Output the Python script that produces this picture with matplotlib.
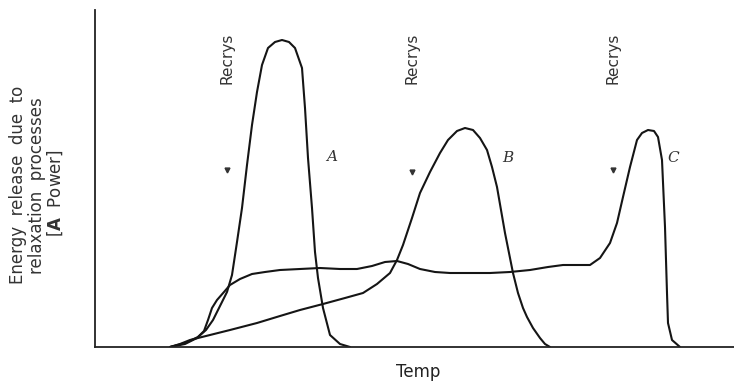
import matplotlib
matplotlib.use("Agg")
import matplotlib.pyplot as plt

# readings: temperature (arbitrary units) and energy release (arbitrary units)
temp_a = [75, 90, 103, 111, 118, 124, 129, 132, 137, 142, 147, 152, 157, 162,
          167, 173, 180, 187, 194, 200, 207, 210, 213, 217, 220, 223, 228, 235,
          245, 255]
power_a = [0, 4, 10, 17, 27, 39, 49, 55, 72, 105, 139, 182, 222, 255, 282, 299,
           305, 307, 305, 299, 279, 239, 189, 139, 95, 69, 39, 12, 3, 0]

temp_b = [75, 85, 95, 115, 135, 162, 185, 205, 228, 250, 268, 282, 295, 302,
          308, 317, 325, 335, 345, 353, 362, 370, 378, 385, 392, 397, 402, 406,
          410, 415, 418, 423, 428, 432, 438, 445, 450, 455]
power_b = [0, 3, 7, 12, 17, 24, 31, 37, 43, 49, 54, 63, 74, 87, 102, 129, 154,
           175, 194, 207, 216, 219, 217, 209, 197, 180, 160, 137, 114, 89, 74,
           54, 39, 30, 19, 9, 3, 0]

temp_c = [75, 90, 102, 109, 113, 117, 122, 129, 135, 145, 157, 170, 185, 205,
          225, 245, 262, 277, 290, 302, 313, 325, 340, 355, 375, 395, 415, 435,
          453, 468, 483, 495, 505, 515, 522, 528, 535, 542, 547, 553, 559, 563,
          567, 570, 572, 573, 577, 585]
power_c = [0, 3, 9, 16, 27, 39, 47, 55, 62, 68, 73, 75, 77, 78, 79, 78, 78, 81,
           85, 86, 83, 78, 75, 74, 74, 74, 75, 77, 80, 82, 82, 82, 89, 104, 124,
           150, 180, 207, 214, 217, 216, 210, 187, 120, 54, 24, 7, 0]

curve_labels = ["A", "B", "C"]
label_temp = [237, 413, 578]
label_power = [190, 189, 189]

recrys_temp = [132, 317, 518]
arrow_power = [177, 175, 177]

fig = plt.figure(figsize=(7.34, 3.89), dpi=100)
W, H = 734, 389
ax = fig.add_axes([95 / W, (H - 347) / H, (W - 95) / W, 337 / H])

ink = "#151515"
for t, p in [(temp_a, power_a), (temp_b, power_b), (temp_c, power_c)]:
    ax.plot(t, p, color=ink, lw=1.5, solid_capstyle="round", solid_joinstyle="round")

for name, tx, py in zip(curve_labels, label_temp, label_power):
    ax.text(tx, py, name, fontsize=11, fontstyle="italic", family="DejaVu Serif",
            color="#333333", ha="center", va="center")

for tx, py in zip(recrys_temp, arrow_power):
    ax.plot(tx, py, marker="v", color="#333333", markersize=3.5, ls="none")
    ax.text(tx, 289, "Recrys", rotation=90, fontsize=11, color="#333333",
            ha="center", va="center")

ax.set_xlim(0, 639)
ax.set_ylim(0, 337)
ax.set_xticks([])
ax.set_yticks([])
for side in ["top", "right"]:
    ax.spines[side].set_visible(False)
for side in ["left", "bottom"]:
    ax.spines[side].set_linewidth(1.3)
    ax.spines[side].set_color("#222222")

fig.text(418 / W, 1 - 372 / H, "Temp", fontsize=12, color="#222222",
         ha="center", va="center")

ylab = ["Energy  release  due  to", "relaxation  processes", r"[$\mathbf{A}$  Power]"]
ylab_x = [18, 37, 55]
ylab_y = [185, 186, 193]
ylab_size = [12, 12, 12]
for s, x, y, fs in zip(ylab, ylab_x, ylab_y, ylab_size):
    fig.text(x / W, 1 - y / H, s, rotation=90, fontsize=fs, color="#333333",
             ha="center", va="center")

fig.savefig("out.png", dpi=100)
